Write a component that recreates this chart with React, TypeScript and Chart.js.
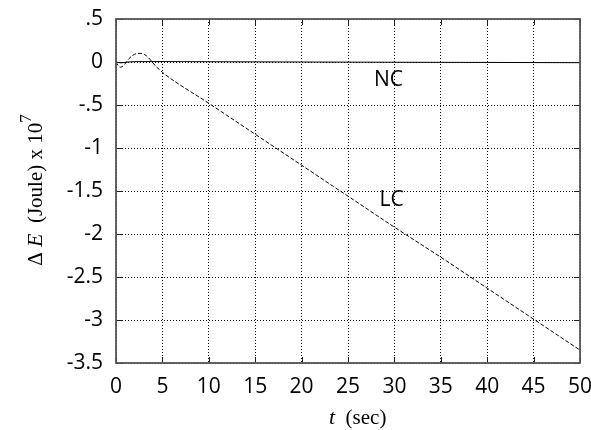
import React, { useEffect, useRef } from "react";
import { Chart, registerables } from "chart.js";

Chart.register(...registerables);

const lcTimes = [0, 0.25, 0.5, 0.9, 1.4, 2.0, 2.6, 3.1, 3.5, 3.9, 4.3, 4.7, 5.0, 10, 15, 20, 25, 30, 35, 40, 45, 50];
const lcValues = [0, -0.045, -0.06, -0.03, 0.04, 0.09, 0.1, 0.085, 0.05, 0.0, -0.05, -0.09, -0.12, -0.48, -0.84, -1.2, -1.56, -1.92, -2.27, -2.63, -2.99, -3.35];
const ncTimes = [0, 0.5, 1, 2, 5, 10, 20, 30, 40, 50];
const ncValues = [0, -0.01, -0.004, 0.004, 0.005, 0.003, 0.0, -0.003, -0.005, -0.008];
const xTicks = [0, 5, 10, 15, 20, 25, 30, 35, 40, 45, 50];
const yTickLabels: Record<string, string> = {
  "0.5": ".5", "0": "0", "-0.5": "-.5", "-1": "-1", "-1.5": "-1.5", "-2": "-2",
  "-2.5": "-2.5", "-3": "-3", "-3.5": "-3.5",
};
const curveLabels = [
  { text: "NC", t: 27.8, v: -0.21 },
  { text: "LC", t: 28.4, v: -1.6 },
];

const sans = "'Open Sans', 'Noto Sans', sans-serif";
const serif = "'Liberation Serif', 'DejaVu Serif', serif";

const zeroPad = (s: any) => {
  s.paddingLeft = 0; s.paddingRight = 0; s.paddingTop = 0; s.paddingBottom = 0;
};

const decorPlugin = {
  id: "decor",
  afterDatasetsDraw(chart: any) {
    const { ctx, chartArea: a, scales } = chart;
    const xs = scales.x, ys = scales.y;
    ctx.save();
    // inward tick marks
    ctx.strokeStyle = "#222";
    ctx.lineWidth = 1;
    const tl = 6;
    for (const t of xTicks) {
      const px = Math.round(xs.getPixelForValue(t)) + 0.5;
      ctx.beginPath();
      ctx.moveTo(px, a.bottom); ctx.lineTo(px, a.bottom - tl);
      ctx.moveTo(px, a.top); ctx.lineTo(px, a.top + tl);
      ctx.stroke();
    }
    for (let v = 0.5; v >= -3.5; v -= 0.5) {
      const py = Math.round(ys.getPixelForValue(v)) + 0.5;
      ctx.beginPath();
      ctx.moveTo(a.left, py); ctx.lineTo(a.left + tl, py);
      ctx.moveTo(a.right, py); ctx.lineTo(a.right - tl, py);
      ctx.stroke();
    }
    // frame
    ctx.strokeStyle = "#555";
    ctx.lineWidth = 1.8;
    ctx.strokeRect(a.left, a.top, a.right - a.left, a.bottom - a.top);
    // curve labels
    ctx.fillStyle = "#000";
    ctx.font = `21px ${sans}`;
    ctx.textAlign = "left";
    ctx.textBaseline = "middle";
    for (const l of curveLabels) {
      ctx.fillText(l.text, xs.getPixelForValue(l.t), ys.getPixelForValue(l.v));
    }
    // x title
    ctx.textBaseline = "alphabetic";
    ctx.font = `italic 22px ${serif}`;
    const tW = ctx.measureText("t").width;
    const rest = "  (sec)";
    const yb = 424;
    const x0 = 329;
    ctx.fillText("t", x0, yb);
    ctx.font = `21px ${serif}`;
    ctx.fillText(rest, x0 + tW, yb);
    // y title rotated
    ctx.translate(42, 190);
    ctx.rotate(-Math.PI / 2);
    const parts = [
      { s: "Δ ", f: `21px ${serif}`, dy: 0 },
      { s: "E", f: `italic 22px ${serif}`, dy: 0 },
      { s: "  (Joule) x 10", f: `21px ${serif}`, dy: 0 },
      { s: "7", f: `17px ${serif}`, dy: -11 },
    ];
    let total = 0;
    for (const p of parts) { ctx.font = p.f; total += ctx.measureText(p.s).width; }
    let cx = -total / 2;
    for (const p of parts) {
      ctx.font = p.f;
      ctx.fillText(p.s, cx, p.dy);
      cx += ctx.measureText(p.s).width;
    }
    ctx.restore();
  },
};

export default function App() {
  const ref = useRef<HTMLCanvasElement | null>(null);
  useEffect(() => {
    document.body.style.margin = "0";
    const canvas = ref.current!;
    const chart = new Chart(canvas, {
      type: "line",
      data: {
        datasets: [
          {
            label: "NC",
            data: ncTimes.map((t, i) => ({ x: t, y: ncValues[i] })),
            borderColor: "#000",
            borderWidth: 1,
            pointRadius: 0,
            cubicInterpolationMode: "monotone",
          },
          {
            label: "LC",
            data: lcTimes.map((t, i) => ({ x: t, y: lcValues[i] })),
            borderColor: "#000",
            borderWidth: 1,
            borderDash: [4, 2],
            pointRadius: 0,
            cubicInterpolationMode: "monotone",
          },
        ],
      },
      options: {
        responsive: false,
        animation: false,
        layout: { padding: { left: 0, top: 19, right: 11, bottom: 0 } },
        plugins: { legend: { display: false }, tooltip: { enabled: false } },
        scales: {
          x: {
            type: "linear",
            min: 0,
            max: 50,
            afterBuildTicks: (s: any) => { s.ticks = xTicks.map((v) => ({ value: v })); },
            afterFit: (s: any) => { s.height = 67; zeroPad(s); },
            grid: { color: "#000", lineWidth: 1, drawTicks: false },
            border: { display: false, dash: [1, 2] },
            ticks: {
              color: "#000",
              padding: 11,
              font: { family: sans, size: 21 },
              maxRotation: 0,
            },
          },
          y: {
            type: "linear",
            min: -3.5,
            max: 0.5,
            afterFit: (s: any) => { s.width = 116; zeroPad(s); },
            grid: { color: "#000", lineWidth: 1, drawTicks: false },
            border: { display: false, dash: [1, 2] },
            ticks: {
              stepSize: 0.5,
              color: "#000",
              padding: 13,
              font: { family: sans, size: 21 },
              callback: (v: any) => yTickLabels[String(v)] ?? String(v),
            },
          },
        },
      },
      plugins: [decorPlugin],
    } as any);
    return () => chart.destroy();
  }, []);
  return (
    <div style={{ position: "fixed", left: 0, top: 0, width: 591, height: 430, background: "#fff" }}>
      <canvas ref={ref} width={591} height={430} />
    </div>
  );
}
